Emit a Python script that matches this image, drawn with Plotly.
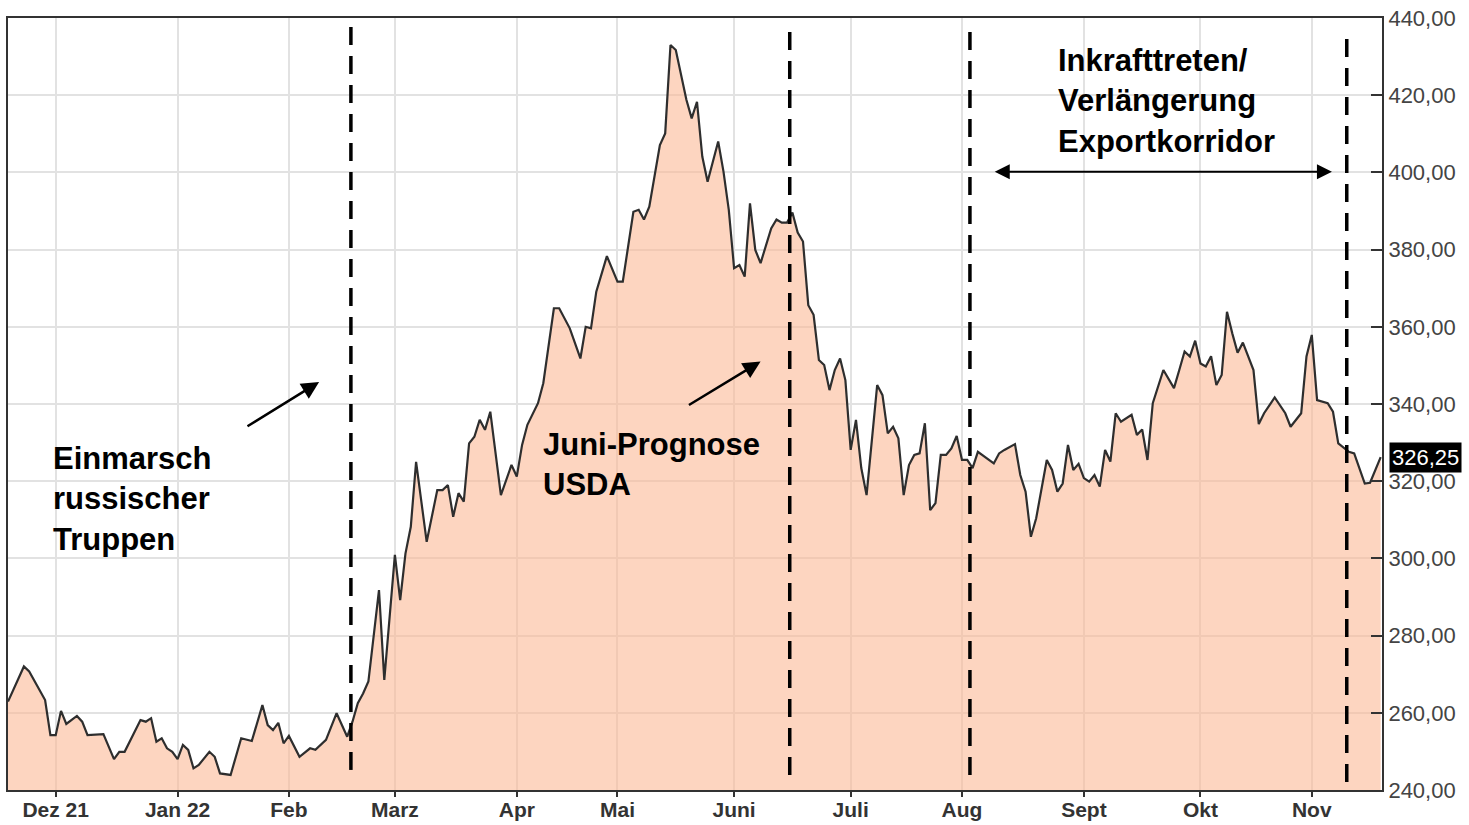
import plotly.graph_objects as go

# ---------------- data (trading-day index since 18 Nov 2021, price EUR/t) ----------------
tday = [0, 3, 4, 6, 7, 8, 9, 10, 11, 13, 14, 15, 18, 20, 21, 22, 25, 26, 27, 28, 29, 30, 31, 32,
        33, 34, 35, 36, 38, 39, 40, 42, 44, 46, 48, 49, 50, 51, 52, 53, 55, 57, 58, 60, 62, 64,
        65, 66, 67, 68, 70, 71, 73, 74, 75, 76, 77, 79, 81, 82, 83, 84, 85, 86, 87, 88, 89, 90,
        91, 93, 95, 96, 97, 98, 100, 101, 103, 104, 106, 108, 109, 110, 111, 113, 115, 116, 118,
        119, 120, 121, 123, 124, 125, 126, 128, 129, 130, 131, 132, 134, 135, 136, 137, 138, 139,
        140, 141, 142, 144, 145, 146, 147, 148, 149, 150, 151, 152, 153, 154, 155, 156, 157, 158,
        159, 160, 161, 162, 164, 165, 166, 167, 168, 169, 170, 171, 172, 173, 174, 175, 176, 177,
        178, 179, 180, 181, 182, 183, 186, 187, 188, 190, 191, 192, 193, 194, 196, 197, 198, 199,
        200, 201, 202, 203, 204, 205, 206, 207, 208, 209, 210, 212, 213, 214, 215, 216, 218, 220,
        221, 222, 223, 224, 225, 226, 227, 228, 229, 230, 231, 232, 233, 235, 236, 237, 239, 241,
        242, 244, 245, 246, 247, 249, 250, 251, 253, 254, 256, 257, 259]

price = [262.9, 272.0, 270.7, 265.5, 263.3, 254.2, 254.2, 260.5, 257.1, 259.2, 257.7, 254.2, 254.5,
         248.0, 249.9, 249.9, 258.1, 257.7, 258.6, 252.5, 253.4, 250.8, 249.9, 248.0, 251.7, 250.4,
         245.6, 246.5, 249.9, 248.6, 244.3, 243.9, 253.4, 252.7, 262.0, 256.8, 255.5, 257.4, 252.1,
         254.0, 248.6, 250.8, 250.4, 253.0, 259.9, 253.8, 257.7, 262.5, 265.0, 268.1, 291.8, 268.5,
         300.9, 289.2, 301.3, 308.2, 325.0, 304.3, 317.7, 317.7, 319.0, 310.8, 316.9, 314.7, 329.8,
         331.5, 335.9, 333.3, 338.0, 316.4, 324.2, 321.2, 329.4, 334.6, 340.2, 345.4, 364.8, 364.8,
         359.6, 351.8, 360.0, 359.6, 369.1, 378.3, 371.7, 371.7, 389.8, 390.3, 387.8, 391.1, 407.1,
         410.1, 433.0, 431.7, 418.8, 414.0, 418.3, 404.1, 397.6, 408.0, 400.2, 390.3, 375.2, 376.0,
         373.0, 392.0, 379.9, 376.5, 385.5, 387.8, 387.0, 387.0, 389.6, 384.4, 382.1, 365.6, 363.1,
         351.4, 350.1, 343.6, 348.8, 351.8, 346.2, 328.1, 335.9, 323.4, 316.4, 344.9, 342.3, 332.4,
         334.1, 331.1, 316.4, 324.2, 326.8, 327.2, 335.0, 312.5, 314.3, 326.8, 326.8, 328.5, 331.7,
         325.5, 325.5, 323.4, 327.6, 324.6, 327.2, 328.1, 329.6, 321.6, 317.3, 305.6, 310.4, 325.5,
         322.9, 317.3, 319.4, 329.4, 322.9, 324.5, 320.8, 319.9, 321.6, 318.6, 328.1, 325.1, 337.6,
         335.4, 337.2, 332.0, 333.4, 325.5, 340.2, 348.8, 344.1, 348.8, 353.6, 352.3, 356.4, 350.5,
         349.7, 352.4, 344.9, 347.5, 363.9, 358.3, 353.3, 355.9, 348.8, 334.8, 337.6, 341.7, 337.6,
         334.1, 337.6, 352.3, 357.9, 341.0, 340.2, 338.0, 329.8, 327.6, 327.2, 319.4, 319.6, 326.25]

month_ticks = [9, 32, 53, 73, 96, 115, 137, 159, 180, 203, 225, 246]
month_labels = ["Dez 21", "Jan 22", "Feb", "Marz", "Apr", "Mai", "Juni", "Juli",
                "Aug", "Sept", "Okt", "Nov"]
price_ticks = [240, 260, 280, 300, 320, 340, 360, 380, 400, 420, 440]
price_tick_labels = ["240,00", "260,00", "280,00", "300,00", "320,00", "340,00",
                     "360,00", "380,00", "400,00", "420,00", "440,00"]
last_price = 326.25
last_price_label = "326,25"

event_days = [64.7, 147.5, 181.5, 252.6]

# ---------------- figure ----------------
FONT = "Liberation Sans, Arial, sans-serif"

fig = go.Figure()
fig.add_trace(go.Scatter(
    x=tday, y=price, mode="lines",
    line=dict(color="#2e2e2e", width=2.2),
    fill="tozeroy", fillcolor="rgba(252,185,150,0.6)",
    hoverinfo="skip", showlegend=False,
))

event_spans = [(245.2, 438.2), (243.9, 436.9), (243.9, 436.9), (242.1, 434.8)]
for d, (y0, y1) in zip(event_days, event_spans):
    fig.add_shape(type="line", xref="x", yref="y", x0=d, x1=d, y0=y0, y1=y1,
                  line=dict(color="black", width=3.5, dash="18px,11px"))

ann = []
txt_font = dict(family=FONT, size=31, color="black", weight="bold")
ann.append(dict(x=8.1, y=315.4, xref="x", yref="y", xanchor="left", yanchor="middle",
                align="left", showarrow=False, font=txt_font,
                text="Einmarsch<br>russischer<br>Truppen"))
ann.append(dict(x=100.6, y=324.3, xref="x", yref="y", xanchor="left", yanchor="middle",
                align="left", showarrow=False, font=txt_font,
                text="Juni-Prognose<br>USDA"))
ann.append(dict(x=197.8, y=418.6, xref="x", yref="y", xanchor="left", yanchor="middle",
                align="left", showarrow=False, font=txt_font,
                text="Inkrafttreten/<br>Verlängerung<br>Exportkorridor"))
# arrows
ann.append(dict(x=58.7, y=345.7, ax=44.9, ay=334.0, xref="x", yref="y", axref="x", ayref="y",
                text="", showarrow=True, arrowhead=2, arrowsize=1.4, arrowwidth=2.5,
                arrowcolor="black", standoff=0, startstandoff=0))
ann.append(dict(x=142.0, y=351.0, ax=128.2, ay=339.5, xref="x", yref="y", axref="x", ayref="y",
                text="", showarrow=True, arrowhead=2, arrowsize=1.4, arrowwidth=2.5,
                arrowcolor="black", standoff=0, startstandoff=0))
ann.append(dict(x=249.8, y=400.2, ax=185.9, ay=400.2, xref="x", yref="y", axref="x", ayref="y",
                text="", showarrow=True, arrowhead=2, startarrowhead=2, arrowside="end+start",
                arrowsize=1.5, startarrowsize=1.5, arrowwidth=2, arrowcolor="black",
                standoff=0, startstandoff=0))
# last price box
ann.append(dict(x=1, y=last_price, xref="paper", yref="y", xanchor="left", yanchor="middle",
                xshift=7, showarrow=False, text=last_price_label, bgcolor="black",
                borderpad=2, font=dict(family=FONT, size=22, color="white")))

fig.update_layout(
    width=1469, height=825,
    margin=dict(l=8, r=87, t=18, b=35, autoexpand=False),
    paper_bgcolor="white", plot_bgcolor="white",
    hovermode=False, showlegend=False,
    annotations=ann,
    xaxis=dict(
        range=[0, 259.25], tickmode="array", tickvals=month_ticks, ticktext=month_labels,
        ticks="", automargin=False,
        minor=dict(tickmode="array", tickvals=month_ticks, ticks="outside", ticklen=5,
                   tickwidth=2, tickcolor="#333", showgrid=False),
        showgrid=True, gridcolor="#e2e2e2", gridwidth=1.5, zeroline=False,
        showline=True, linecolor="#333", linewidth=2, mirror=True,
        tickfont=dict(family=FONT, size=21, color="#333", weight="bold"),
    ),
    yaxis=dict(
        range=[240, 440], side="right", tickmode="array", tickvals=price_ticks,
        ticktext=price_tick_labels, ticks="inside", ticklen=11, tickwidth=2, tickcolor="#333",
        automargin=False,
        showgrid=True, gridcolor="#e2e2e2", gridwidth=1.5, zeroline=False,
        showline=True, linecolor="#333", linewidth=2, mirror=True,
        tickfont=dict(family=FONT, size=22, color="#444"),
    ),
)

fig.write_html("out.html", config={"displayModeBar": False},
               post_script="document.body.style.margin='0';")
